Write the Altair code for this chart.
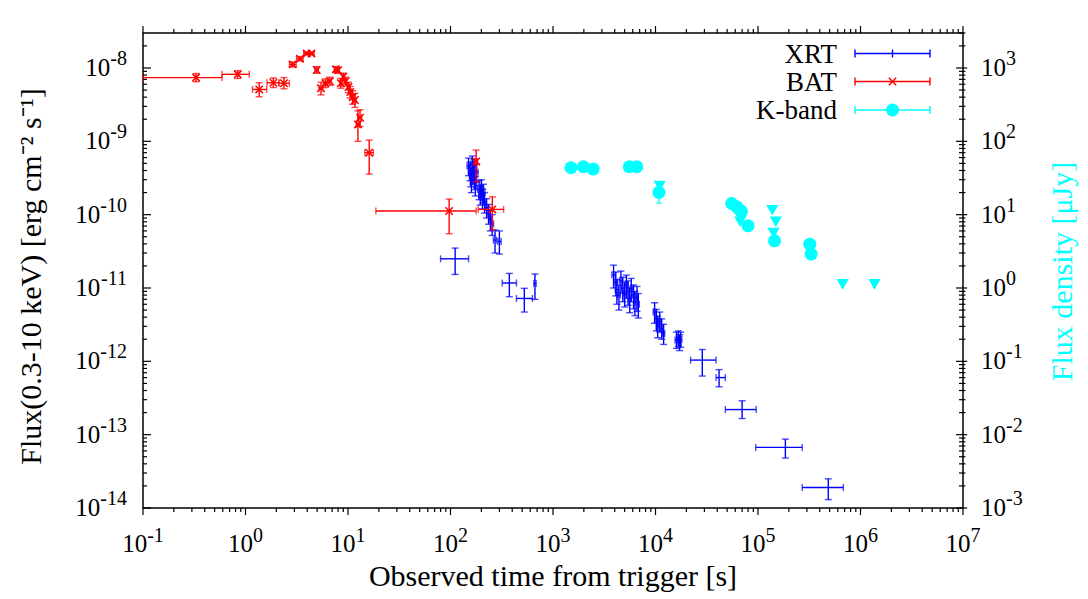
import altair as alt
import pandas as pd

FONT = "Liberation Serif"
BLUE = "#0000ff"
RED = "#ff0000"
CYAN = "#00ffff"

# ---------------- XRT (time [s], time low, time high, flux, flux low, flux high)
xrt_t = [150, 155, 158, 160, 163, 166, 170, 172, 175, 180, 190, 195, 200, 205, 210, 215, 225, 235, 245, 255, 272, 300,
         111, 375, 525, 667,
         3900, 4100, 4200, 4400, 4600, 4800, 5000, 5200, 5400, 5600, 5800, 6100, 6300, 6600, 6800,
         9800, 10200, 10500, 11000, 11500, 12000,
         16000, 16700, 17200, 17600,
         28600, 41700, 70000, 185000, 485000]
xrt_tlo = [145, 150, 153, 156, 158, 161, 165, 167, 170, 175, 184, 189, 194, 199, 204, 209, 218, 228, 238, 247, 262, 290,
           80, 320, 440, 650,
           3750, 3950, 4050, 4250, 4450, 4650, 4850, 5050, 5250, 5450, 5650, 5950, 6150, 6450, 6650,
           9500, 9900, 10200, 10700, 11200, 11700,
           15500, 16200, 16700, 17100,
           22000, 39000, 48000, 95000, 270000]
xrt_thi = [155, 160, 163, 165, 168, 171, 175, 177, 180, 186, 196, 201, 206, 212, 217, 222, 232, 242, 253, 263, 282, 312,
           150, 440, 630, 685,
           4050, 4250, 4350, 4550, 4750, 4950, 5150, 5350, 5550, 5750, 5950, 6250, 6450, 6750, 6950,
           10100, 10500, 10800, 11300, 11800, 12300,
           16500, 17200, 17700, 18100,
           39000, 48000, 96000, 270000, 680000]
xrt_f = [4.6e-10, 4.0e-10, 3.3e-10, 2.8e-10, 4.9e-10, 3.6e-10, 4.4e-10, 3.0e-10, 2.5e-10, 3.8e-10, 2.2e-10, 1.9e-10,
         2.3e-10, 1.7e-10, 2.0e-10, 1.5e-10, 1.25e-10, 1.04e-10, 8.6e-11, 7.5e-11, 4.5e-11, 4.3e-11,
         2.5e-11, 1.17e-11, 7.2e-12, 1.15e-11,
         1.5e-11, 1.2e-11, 9.5e-12, 8.0e-12, 1.25e-11, 1.0e-11, 8.5e-12, 1.1e-11, 9.0e-12, 7.2e-12, 9.8e-12, 8.0e-12,
         6.5e-12, 7.5e-12, 6.0e-12,
         4.7e-12, 3.8e-12, 3.0e-12, 3.5e-12, 2.8e-12, 2.4e-12,
         1.95e-12, 2.1e-12, 1.8e-12, 2.0e-12,
         1.04e-12, 6.0e-13, 2.2e-13, 6.7e-14, 1.9e-14]
xrt_flo = [3.4e-10, 2.9e-10, 2.4e-10, 2.0e-10, 3.7e-10, 2.6e-10, 3.3e-10, 2.2e-10, 1.8e-10, 2.8e-10, 1.6e-10, 1.35e-10,
           1.7e-10, 1.2e-10, 1.45e-10, 1.05e-10, 9.0e-11, 7.4e-11, 6.0e-11, 5.2e-11, 3.0e-11, 2.9e-11,
           1.53e-11, 7.6e-12, 4.7e-12, 7.0e-12,
           1.0e-11, 7.8e-12, 6.0e-12, 5.0e-12, 8.5e-12, 6.5e-12, 5.5e-12, 7.2e-12, 5.8e-12, 4.6e-12, 6.5e-12, 5.2e-12,
           4.2e-12, 4.8e-12, 3.9e-12,
           3.3e-12, 2.6e-12, 2.1e-12, 2.5e-12, 2.0e-12, 1.7e-12,
           1.5e-12, 1.6e-12, 1.4e-12, 1.55e-12,
           6.3e-13, 4.5e-13, 1.66e-13, 4.8e-14, 1.3e-14]
xrt_fhi = [5.9e-10, 5.2e-10, 4.3e-10, 3.7e-10, 6.3e-10, 4.7e-10, 5.7e-10, 3.9e-10, 3.3e-10, 4.9e-10, 2.9e-10, 2.5e-10,
           3.0e-10, 2.25e-10, 2.6e-10, 2.0e-10, 1.65e-10, 1.38e-10, 1.15e-10, 1.0e-10, 6.2e-11, 6.0e-11,
           3.5e-11, 1.58e-11, 9.9e-12, 1.55e-11,
           2.05e-11, 1.65e-11, 1.3e-11, 1.1e-11, 1.7e-11, 1.4e-11, 1.2e-11, 1.5e-11, 1.25e-11, 1.0e-11, 1.35e-11, 1.1e-11,
           9.0e-12, 1.05e-11, 8.4e-12,
           6.3e-12, 5.1e-12, 4.1e-12, 4.7e-12, 3.8e-12, 3.2e-12,
           2.5e-12, 2.6e-12, 2.3e-12, 2.5e-12,
           1.45e-12, 7.7e-13, 2.9e-13, 8.7e-14, 2.5e-14]

# ---------------- BAT
bat_t = [0.33, 0.84, 1.36, 1.87, 2.37, 2.89, 3.4, 3.96, 4.4, 4.95, 5.45, 6.0, 6.66, 7.6, 8.0, 8.5, 9.0, 9.5, 10.1, 10.5,
         11.1, 11.7, 12.5, 13.1, 16.1, 97, 178, 256]
bat_tlo = [0.1, 0.59, 1.17, 1.62, 2.12, 2.68, 3.15, 3.7, 4.2, 4.75, 5.2, 5.75, 6.4, 7.35, 7.8, 8.3, 8.8, 9.3, 9.8, 10.2,
           10.8, 11.4, 12.0, 12.6, 14.6, 18.7, 172, 186]
bat_thi = [0.59, 1.09, 1.61, 2.12, 2.68, 3.12, 3.65, 4.2, 4.65, 5.15, 5.7, 6.25, 6.9, 7.85, 8.25, 8.7, 9.2, 9.7, 10.4,
           10.8, 11.4, 12.0, 13.0, 13.6, 17.7, 178, 184, 330]
bat_f = [7.4e-9, 8.2e-9, 5.1e-9, 6.3e-9, 6.2e-9, 1.12e-8, 1.34e-8, 1.58e-8, 1.58e-8, 9.4e-9, 5.3e-9, 6.2e-9, 6.6e-9,
         9.6e-9, 9.3e-9, 6.2e-9, 7.6e-9, 6.6e-9, 5.5e-9, 4.7e-9, 4.0e-9, 3.66e-9, 1.7e-9, 2.1e-9, 7.0e-10, 1.12e-10,
         5.3e-10, 1.18e-10]
bat_flo = [6.5e-9, 7.2e-9, 4.05e-9, 5.4e-9, 5.2e-9, 1.03e-8, 1.25e-8, 1.5e-8, 1.5e-8, 8.5e-9, 4.3e-9, 5.4e-9, 5.8e-9,
           8.8e-9, 8.5e-9, 5.3e-9, 6.7e-9, 5.7e-9, 4.6e-9, 3.9e-9, 3.2e-9, 2.9e-9, 1.0e-9, 1.6e-9, 3.57e-10, 5.5e-11,
           2.8e-10, 6.2e-11]
bat_fhi = [8.4e-9, 9.2e-9, 6.3e-9, 7.3e-9, 7.4e-9, 1.21e-8, 1.43e-8, 1.66e-8, 1.66e-8, 1.04e-8, 6.4e-9, 7.1e-9, 7.5e-9,
           1.04e-8, 1.01e-8, 7.2e-9, 8.5e-9, 7.5e-9, 6.4e-9, 5.6e-9, 4.9e-9, 4.5e-9, 2.6e-9, 2.7e-9, 1.04e-9, 1.63e-10,
           7.6e-10, 1.75e-10]

# ---------------- K-band (micro-Jansky)
k_t = [1500, 1980, 2470, 5550, 6560, 10800, 55300, 62000, 67000, 69000, 80000, 145000, 320000, 330000]
k_f = [43.6, 45, 41.9, 45, 45, 20.1, 14.2, 12.8, 11.5, 11.0, 7.05, 4.4, 3.96, 2.9]
k_flo = [41, 42.5, 39.5, 42.5, 42.5, 14.3, 13.3, 12.0, 10.8, 10.3, 6.6, 4.0, 3.6, 2.6]
k_fhi = [46, 47.5, 44.5, 47.5, 47.5, 24, 15.1, 13.6, 12.2, 11.7, 7.5, 4.8, 4.3, 3.2]
kul_t = [11000, 67000, 138000, 149000, 142000, 670000, 1370000]
kul_f = [24.5, 8.0, 11.5, 8.0, 5.6, 1.12, 1.12]

# ---------------- axes text
x_dec = [1e-1, 1e0, 1e1, 1e2, 1e3, 1e4, 1e5, 1e6, 1e7]
x_exp = ["-1", "0", "1", "2", "3", "4", "5", "6", "7"]
yl_dec = [1e-14, 1e-13, 1e-12, 1e-11, 1e-10, 1e-9, 1e-8]
yl_exp = ["-14", "-13", "-12", "-11", "-10", "-9", "-8"]
yr_dec = [1e-3, 1e-2, 1e-1, 1e0, 1e1, 1e2, 1e3]
yr_exp = ["-3", "-2", "-1", "0", "1", "2", "3"]
x_title = "Observed time from trigger [s]"
yl_title = "Flux(0.3-10 keV) [erg cm\u207b\u00b2 s\u207b\u00b9]"
yr_title = "Flux density [\u03bcJy]"
leg_names = ["XRT", "BAT", "K-band"]
leg_colors = [BLUE, RED, CYAN]

W, H = 820, 475
xs = alt.Scale(type="log", domain=[0.1, 1e7], nice=False)
yl = alt.Scale(type="log", domain=[1e-14, 3e-8], nice=False)
yr = alt.Scale(type="log", domain=[1e-3, 3e3], nice=False)

xrt = pd.DataFrame(dict(t=xrt_t, tlo=xrt_tlo, thi=xrt_thi, f=xrt_f, flo=xrt_flo, fhi=xrt_fhi))
bat = pd.DataFrame(dict(t=bat_t, tlo=bat_tlo, thi=bat_thi, f=bat_f, flo=bat_flo, fhi=bat_fhi))
kb = pd.DataFrame(dict(t=k_t, f=k_f, flo=k_flo, fhi=k_fhi))
kul = pd.DataFrame(dict(t=kul_t, f=kul_f))


def errbars(df, color, ys, cap=7, horizontal=True):
    out = []
    if horizontal:
        out.append(alt.Chart(df).mark_errorbar(ticks=True, size=cap, thickness=1.4, color=color).encode(
            x=alt.X("tlo:Q", scale=xs, axis=None), x2="thi:Q", y=alt.Y("f:Q", scale=ys, axis=None)))
    out.append(alt.Chart(df).mark_errorbar(ticks=True, size=cap, thickness=1.4, color=color).encode(
        x=alt.X("t:Q", scale=xs, axis=None), y=alt.Y("flo:Q", scale=ys, axis=None), y2="fhi:Q"))
    return out


left = []
left += errbars(xrt, BLUE, yl)
left += errbars(bat, RED, yl)
cross = "M-1,-1L1,1M-1,1L1,-1"
left.append(alt.Chart(bat).mark_point(shape=cross, size=55, strokeWidth=1.5, color=RED, opacity=1).encode(
    x=alt.X("t:Q", scale=xs, axis=None), y=alt.Y("f:Q", scale=yl, axis=None)))

# ticks
x_major = pd.DataFrame(dict(v=x_dec))
x_minor = pd.DataFrame(dict(v=[m * d for d in x_dec[:-1] for m in range(2, 10)]))
yl_major = pd.DataFrame(dict(v=yl_dec))
yl_minor = pd.DataFrame(dict(v=[m * d for d in yl_dec for m in range(2, 10) if m * d <= 3e-8]))
yr_major = pd.DataFrame(dict(v=yr_dec))
yr_minor = pd.DataFrame(dict(v=[m * d for d in yr_dec for m in range(2, 10) if m * d <= 3e3]))

for df, L in [(x_major, 7), (x_minor, 4)]:
    left.append(alt.Chart(df).mark_rule(color="black", strokeWidth=1.2).encode(
        x=alt.X("v:Q", scale=xs, axis=None), y=alt.value(H), y2=alt.value(H + L)))
    left.append(alt.Chart(df).mark_rule(color="black", strokeWidth=1.2).encode(
        x=alt.X("v:Q", scale=xs, axis=None), y=alt.value(0), y2=alt.value(-L)))
for df, L in [(yl_major, 8), (yl_minor, 4)]:
    left.append(alt.Chart(df).mark_rule(color="black", strokeWidth=1.2).encode(
        y=alt.Y("v:Q", scale=yl, axis=None), x=alt.value(0), x2=alt.value(L)))

# x tick labels
xl = pd.DataFrame(dict(v=x_dec, base=["10"] * len(x_dec), exp=x_exp))
for neg, off in [(True, 4.2), (False, 7.5)]:
    sub = xl[xl["exp"].str.startswith("-") == neg]
    left.append(alt.Chart(sub).mark_text(font=FONT, fontSize=25, align="right", baseline="middle", dx=off).encode(
        x=alt.X("v:Q", scale=xs, axis=None), y=alt.value(H + 36), text="base:N"))
    left.append(alt.Chart(sub).mark_text(font=FONT, fontSize=20, align="left", baseline="middle", dx=off).encode(
        x=alt.X("v:Q", scale=xs, axis=None), y=alt.value(H + 27.5), text="exp:N"))

# left y tick labels
yll = pd.DataFrame(dict(v=yl_dec, base=["10"] * len(yl_dec), exp=yl_exp))
for n, w in [(2, 16.7), (3, 26.7)]:
    sub = yll[yll["exp"].str.len() == n]
    left.append(alt.Chart(sub).mark_text(font=FONT, fontSize=25, align="right", baseline="middle").encode(
        y=alt.Y("v:Q", scale=yl, axis=None), x=alt.value(-16 - w), text="base:N"))
    left.append(alt.Chart(sub).mark_text(font=FONT, fontSize=20, align="right", baseline="middle", dy=-9).encode(
        y=alt.Y("v:Q", scale=yl, axis=None), x=alt.value(-16), text="exp:N"))

# titles
left.append(alt.Chart(pd.DataFrame(dict(s=[x_title]))).mark_text(
    font=FONT, fontSize=30, align="center", baseline="alphabetic").encode(
    x=alt.value(W / 2), y=alt.value(553), text="s:N"))
left.append(alt.Chart(pd.DataFrame(dict(s=[yl_title]))).mark_text(
    font=FONT, fontSize=30, align="center", baseline="alphabetic", angle=270).encode(
    x=alt.value(-102), y=alt.value(H / 2 + 6), text="s:N"))

# legend
leg_y = [20.5, 48.5, 77]
for i, (name, col) in enumerate(zip(leg_names, leg_colors)):
    one = pd.DataFrame(dict(name=[name]))
    yy = leg_y[i]
    left.append(alt.Chart(one).mark_text(font=FONT, fontSize=27, align="right", baseline="middle").encode(
        x=alt.value(694), y=alt.value(yy + 1), text="name:N"))
    left.append(alt.Chart(one).mark_rule(color=col, strokeWidth=1.4).encode(
        x=alt.value(712), x2=alt.value(787), y=alt.value(yy)))
    for xc in [712, 787]:
        left.append(alt.Chart(one).mark_rule(color=col, strokeWidth=1.4).encode(
            x=alt.value(xc), y=alt.value(yy - 4), y2=alt.value(yy + 4)))
    if name == "XRT":
        left.append(alt.Chart(one).mark_rule(color=col, strokeWidth=1.4).encode(
            x=alt.value(749.5), y=alt.value(yy - 4), y2=alt.value(yy + 4)))
    elif name == "BAT":
        left.append(alt.Chart(one).mark_point(shape=cross, size=55, strokeWidth=1.5, color=col, opacity=1).encode(
            x=alt.value(749.5), y=alt.value(yy)))
    else:
        left.append(alt.Chart(one).mark_point(shape="circle", size=169, filled=True, color=col, opacity=1).encode(
            x=alt.value(749.5), y=alt.value(yy)))

# ---------------- right group (K-band scale)
right = []
right += errbars(kb, CYAN, yr, cap=6, horizontal=False)
right.append(alt.Chart(kb).mark_point(shape="circle", size=169, filled=True, color=CYAN, opacity=1).encode(
    x=alt.X("t:Q", scale=xs, axis=None), y=alt.Y("f:Q", scale=yr, axis=None)))
right.append(alt.Chart(kul).mark_point(shape="triangle-down", size=150, filled=True, color=CYAN, opacity=1).encode(
    x=alt.X("t:Q", scale=xs, axis=None), y=alt.Y("f:Q", scale=yr, axis=None)))
for df, L in [(yr_major, 7), (yr_minor, 4)]:
    right.append(alt.Chart(df).mark_rule(color="black", strokeWidth=1.2).encode(
        y=alt.Y("v:Q", scale=yr, axis=None), x=alt.value(W - L), x2=alt.value(W + L * 0.6)))
yrl = pd.DataFrame(dict(v=yr_dec, base=["10"] * len(yr_dec), exp=yr_exp))
right.append(alt.Chart(yrl).mark_text(font=FONT, fontSize=25, align="left", baseline="middle").encode(
    y=alt.Y("v:Q", scale=yr, axis=None), x=alt.value(W + 18), text="base:N"))
right.append(alt.Chart(yrl).mark_text(font=FONT, fontSize=20, align="left", baseline="middle", dy=-9).encode(
    y=alt.Y("v:Q", scale=yr, axis=None), x=alt.value(W + 43), text="exp:N"))
right.append(alt.Chart(pd.DataFrame(dict(s=[yr_title]))).mark_text(
    font=FONT, fontSize=30, align="center", baseline="alphabetic", angle=270, color=CYAN).encode(
    x=alt.value(W + 109), y=alt.value(H / 2 + 1), text="s:N"))

chart = alt.layer(alt.layer(*left), alt.layer(*right)).resolve_scale(y="independent").properties(
    width=W, height=H,
    padding={"left": 135, "top": 25, "right": 117, "bottom": 84},
    autosize=alt.AutoSizeParams(type="none"),
).configure_view(stroke="black", strokeWidth=1.5)

chart.save("out.html", embed_options={"renderer": "svg", "actions": False})
